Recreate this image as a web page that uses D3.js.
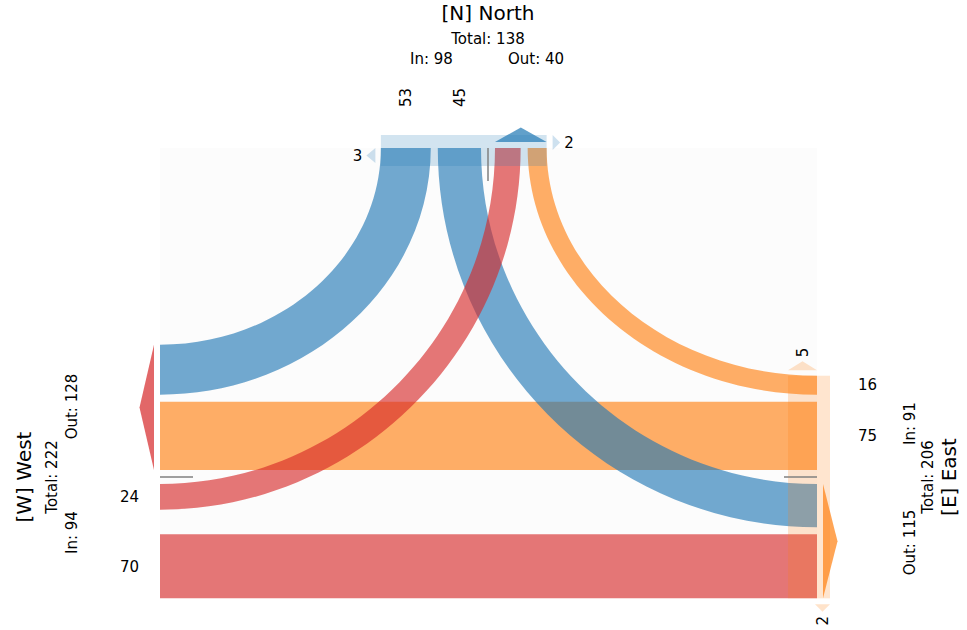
<!DOCTYPE html>
<html lang="en">
<head>
<meta charset="utf-8">
<title>Junction turning flows</title>
<script src="https://cdn.jsdelivr.net/npm/d3@7"></script>
<style>
  body { margin: 0; background: #fff; }
  #chart1 text { font-family: "DejaVu Sans", sans-serif; fill: #000; }
</style>
</head>
<body>
<div id="chart1"></div>
<script>
// approaches
const approachCodes = ["N", "W", "E"];
const approachNames = ["North", "West", "East"];
const approachColors = ["#1f77b4", "#d62728", "#ff7f0e"];

// turning movements (drawing order)
const flowFrom = ["E", "E", "N", "N", "W", "W"];
const flowTo = ["N", "W", "W", "E", "N", "E"];
const flowValues = [16, 75, 53, 45, 24, 70];

// u-turns
const uturnAt = ["N", "N", "E", "E"];
const uturnSide = ["in", "out", "in", "out"];
const uturnValues = [3, 2, 5, 2];

// layout of each arm
const junction = {
    N: {axis: "x", divider: 488, end: 148, inSign: -1, outward: -1, angle: 90, rectIn: 18, uLen: 15, valueOff: 50.5},
    W: {axis: "y", divider: 477, end: 160, inSign: 1, outward: -1, angle: 180, rectIn: 29, uLen: 29, valueOff: 21},
    E: {axis: "y", divider: 477, end: 817, inSign: -1, outward: 1, angle: 0, rectIn: 29, uLen: 29, valueOff: 41}
};
const gap = 7;
const k = 0.55;

const svg = d3.select("#chart1").append("svg")
    .attr("width", 967)
    .attr("height", 630);

const width = d3.scaleLinear()
    .domain([0, d3.max(flowValues)])
    .range([5.6, 68.3]);

const colorOf = c => approachColors[approachCodes.indexOf(c)];
const pt = (c, across, along) => {
    const j = junction[c];
    const a = along == null ? j.end : along;
    return j.axis === "x" ? [across, a] : [a, across];
};

// 0 = left, 1 = through, 2 = right
function turnOf(from, to) {
    const heading = (junction[from].angle + 180) % 360;
    const d = (((junction[to].angle - heading) % 360) + 360) % 360;
    return d === 0 ? 1 : d === 90 ? 0 : 2;
}

const flows = flowValues.map((v, i) => ({
    from: flowFrom[i], to: flowTo[i], value: v,
    turn: turnOf(flowFrom[i], flowTo[i]), w: width(v)
}));

// stack lanes outward from the divider: left, through, right
const cursor = {};
approachCodes.forEach(c => { cursor[c + "-in"] = gap; cursor[c + "-out"] = gap; });
[0, 1, 2].forEach(t => {
    flows.filter(f => f.turn === t).forEach(f => {
        const a = f.from + "-in", b = f.to + "-out";
        let oa = cursor[a], ob = cursor[b];
        if (t === 1) { oa = ob = Math.max(oa, ob); }
        cursor[a] = oa + f.w + gap;
        cursor[b] = ob + f.w + gap;
        const ja = junction[f.from], jb = junction[f.to];
        f.fromLane = {inner: ja.divider + ja.inSign * oa, outer: ja.divider + ja.inSign * (oa + f.w)};
        f.toLane = {inner: jb.divider - jb.inSign * ob, outer: jb.divider - jb.inSign * (ob + f.w)};
    });
});

function curve(p, s, sc, t, tc) {
    const sa = junction[sc].axis, ta = junction[tc].axis;
    if (sa === ta) { p.lineTo(t[0], t[1]); return; }
    const corner = sa === "x" ? [s[0], t[1]] : [t[0], s[1]];
    p.bezierCurveTo(
        s[0] + k * (corner[0] - s[0]), s[1] + k * (corner[1] - s[1]),
        t[0] + k * (corner[0] - t[0]), t[1] + k * (corner[1] - t[1]),
        t[0], t[1]);
}

function ribbon(f) {
    const p = d3.path();
    const P1 = pt(f.from, f.fromLane.outer), Q1 = pt(f.to, f.toLane.outer);
    const Q2 = pt(f.to, f.toLane.inner), P2 = pt(f.from, f.fromLane.inner);
    p.moveTo(P1[0], P1[1]);
    curve(p, P1, f.from, Q1, f.to);
    p.lineTo(Q2[0], Q2[1]);
    curve(p, Q2, f.to, P2, f.from);
    p.closePath();
    return p.toString();
}

// lane extents per arm and side
function extent(c, side) {
    const vals = [];
    flows.forEach(f => {
        if (side !== "out" && f.from === c) vals.push(f.fromLane.inner, f.fromLane.outer);
        if (side !== "in" && f.to === c) vals.push(f.toLane.inner, f.toLane.outer);
    });
    return d3.extent(vals);
}

// faint plot background
svg.append("rect")
    .attr("x", junction.W.end).attr("y", junction.N.end)
    .attr("width", junction.E.end - junction.W.end)
    .attr("height", extent("E")[1] - junction.N.end)
    .attr("fill", "#000").attr("opacity", 0.01);

// flows
svg.append("g").selectAll("path")
    .data(flows)
    .enter().append("path")
    .attr("d", ribbon)
    .attr("fill", d => colorOf(d.from))
    .attr("fill-opacity", 0.63);

// light arm boxes where there are u-turns
const uArms = Array.from(new Set(uturnAt));
uArms.forEach(c => {
    const j = junction[c];
    const ac = extent(c);
    const al = [j.end + j.outward * 13, j.end - j.outward * j.rectIn].sort(d3.ascending);
    const r = j.axis === "x"
        ? {x: ac[0], y: al[0], w: ac[1] - ac[0], h: al[1] - al[0]}
        : {x: al[0], y: ac[0], w: al[1] - al[0], h: ac[1] - ac[0]};
    svg.append("rect")
        .attr("x", r.x).attr("y", r.y).attr("width", r.w).attr("height", r.h)
        .attr("fill", colorOf(c)).attr("fill-opacity", 0.2);
});

// u-turn markers
uturnValues.forEach((v, i) => {
    const c = uturnAt[i], j = junction[c];
    const side = uturnSide[i];
    const sign = side === "in" ? j.inSign : -j.inSign;
    const ext = extent(c, side);
    const edgePos = sign < 0 ? ext[0] : ext[1];
    const base = edgePos + sign * (side === "in" ? 5.5 : 6);
    const apex = edgePos + sign * (side === "in" ? 14.5 : 13.5);
    const al = side === "in"
        ? [j.end, j.end - j.outward * j.uLen]
        : [j.end + j.outward * 13, j.end - j.outward * 2];
    const mid = (al[0] + al[1]) / 2;
    const pts = [pt(c, base, al[0]), pt(c, base, al[1]), pt(c, apex, mid)];
    svg.append("polygon")
        .attr("points", pts.map(d => d.join(",")).join(" "))
        .attr("fill", colorOf(c)).attr("fill-opacity", 0.22);
    const lp = pt(c, apex + sign * 4, mid);
    const t = svg.append("text")
        .attr("font-size", 15)
        .attr("dy", "0.35em")
        .text(v);
    if (j.axis === "x") {
        t.attr("x", lp[0]).attr("y", lp[1]).attr("text-anchor", sign < 0 ? "end" : "start");
    } else {
        t.attr("transform", "translate(" + lp[0] + "," + lp[1] + ") rotate(-90)")
            .attr("text-anchor", sign < 0 ? "start" : "end");
    }
});

// exit arrows
approachCodes.forEach(c => {
    const j = junction[c];
    const ext = extent(c, "out");
    const base = j.end + j.outward * 6, apex = j.end + j.outward * 20.5;
    const pts = [pt(c, ext[0], base), pt(c, ext[1], base), pt(c, (ext[0] + ext[1]) / 2, apex)];
    svg.append("polygon")
        .attr("points", pts.map(d => d.join(",")).join(" "))
        .attr("fill", colorOf(c)).attr("fill-opacity", 0.7);
});

// dividers
approachCodes.forEach(c => {
    const j = junction[c];
    const p0 = pt(c, j.divider, j.end), p1 = pt(c, j.divider, j.end - j.outward * 33);
    svg.append("line")
        .attr("x1", p0[0]).attr("y1", p0[1]).attr("x2", p1[0]).attr("y2", p1[1])
        .attr("stroke", "#808080").attr("stroke-width", 1.5);
});

// lane values at the entries
flows.forEach(f => {
    const j = junction[f.from];
    const centre = (f.fromLane.inner + f.fromLane.outer) / 2;
    const lp = pt(f.from, centre, j.end + j.outward * j.valueOff);
    const t = svg.append("text").attr("font-size", 15).attr("dy", "0.35em").text(f.value);
    if (j.axis === "x") {
        t.attr("transform", "translate(" + lp[0] + "," + lp[1] + ") rotate(-90)").attr("text-anchor", "middle");
    } else {
        t.attr("x", lp[0]).attr("y", lp[1]).attr("text-anchor", j.outward < 0 ? "end" : "start");
    }
});

// arm titles and totals
const inTotal = c => d3.sum(flows.filter(f => f.from === c), f => f.value);
const outTotal = c => d3.sum(flows.filter(f => f.to === c), f => f.value);

const armLabels = {
    N: {title: [488, 19.5], total: [488, 44.3], inL: [431.5, 64], outL: [536, 64]},
    W: {title: [31, 477], total: [56.7, 477], inL: [77, 532.5], outL: [77, 406.5]},
    E: {title: [956, 477], total: [933, 477], inL: [915, 423.5], outL: [915, 542.5]}
};

approachCodes.forEach((c, i) => {
    const L = armLabels[c];
    const rows = [
        [L.title, "[" + c + "] " + approachNames[i], 20],
        [L.total, "Total: " + (inTotal(c) + outTotal(c)), 15],
        [L.inL, "In: " + inTotal(c), 15],
        [L.outL, "Out: " + outTotal(c), 15]
    ];
    rows.forEach(r => {
        const t = svg.append("text")
            .attr("font-size", r[2])
            .attr("text-anchor", "middle")
            .text(r[1]);
        if (junction[c].axis === "x") {
            t.attr("x", r[0][0]).attr("y", r[0][1]);
        } else {
            t.attr("transform", "translate(" + r[0][0] + "," + r[0][1] + ") rotate(-90)");
        }
    });
});
</script>
</body>
</html>
